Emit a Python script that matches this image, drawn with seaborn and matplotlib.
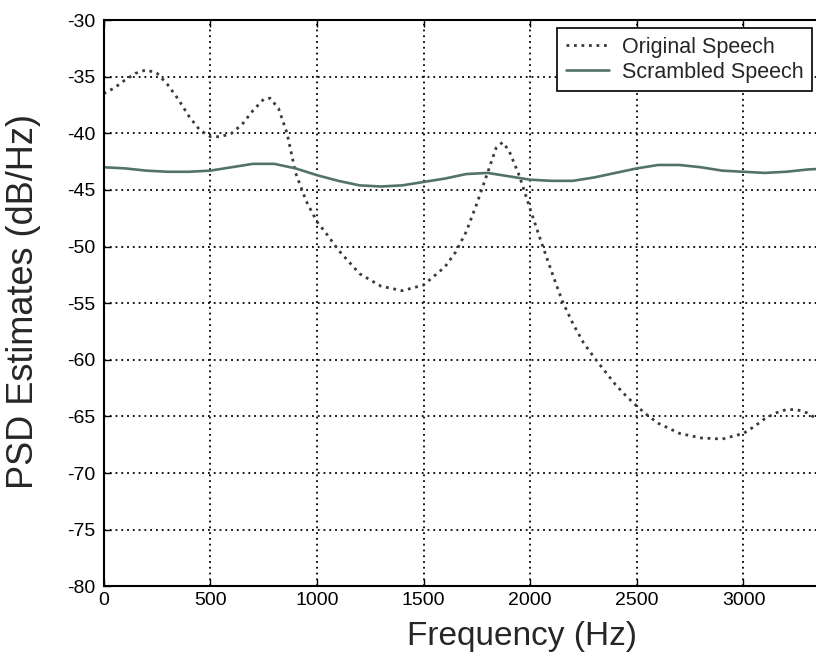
import numpy as np
import pandas as pd
import matplotlib
matplotlib.use("Agg")
import matplotlib.pyplot as plt
import seaborn as sns

# ---- data ----
orig_freq = [0, 50, 100, 150, 200, 250, 300, 350, 400, 450, 500, 550, 600, 650, 700,
             750, 780, 820, 860, 900, 950, 1000, 1050, 1100, 1200, 1300, 1400, 1500,
             1600, 1650, 1700, 1750, 1800, 1840, 1870, 1900, 1950, 2000, 2050, 2100,
             2150, 2200, 2250, 2300, 2350, 2400, 2450, 2500, 2550, 2600, 2700, 2800,
             2900, 3000, 3050, 3100, 3150, 3200, 3250, 3300, 3350, 3400]
orig_psd = [-36.5, -36.0, -35.3, -34.7, -34.4, -34.7, -35.7, -37.0, -38.5, -39.7, -40.3,
            -40.3, -40.0, -39.2, -38.0, -37.0, -36.9, -37.8, -40.0, -43.5, -46.0, -47.8,
            -49.0, -50.3, -52.4, -53.5, -53.9, -53.4, -51.8, -50.5, -48.7, -46.2, -43.5,
            -41.3, -40.8, -41.5, -43.8, -46.7, -49.5, -52.2, -54.8, -56.8, -58.5, -59.8,
            -61.0, -62.2, -63.2, -64.1, -64.9, -65.6, -66.5, -66.9, -67.0, -66.5, -65.9,
            -65.2, -64.7, -64.4, -64.4, -64.7, -65.3, -66.0]

scr_freq = [0, 100, 200, 300, 400, 500, 600, 700, 800, 900, 1000, 1100, 1200, 1300, 1400,
            1500, 1600, 1700, 1800, 1900, 2000, 2100, 2200, 2300, 2400, 2500, 2600, 2700,
            2800, 2900, 3000, 3100, 3200, 3300, 3400]
scr_psd = [-43.0, -43.1, -43.3, -43.4, -43.4, -43.3, -43.0, -42.7, -42.7, -43.1, -43.7,
           -44.2, -44.6, -44.7, -44.6, -44.3, -44.0, -43.6, -43.5, -43.8, -44.1, -44.2,
           -44.2, -43.9, -43.5, -43.1, -42.8, -42.8, -43.0, -43.3, -43.4, -43.5, -43.4,
           -43.2, -43.1]

series_labels = ["Original Speech", "Scrambled Speech"]
x_ticks = [0, 500, 1000, 1500, 2000, 2500, 3000]
y_ticks = [-80, -75, -70, -65, -60, -55, -50, -45, -40, -35, -30]
x_label = "Frequency (Hz)"
y_label = "PSD Estimates (dB/Hz)"

# ---- plotting ----
sns.set_style("white")
plt.rcParams["font.family"] = ["Liberation Sans", "DejaVu Sans"]

fig = plt.figure(figsize=(8.16, 6.67), dpi=100)
ax = fig.add_axes([0.127, 0.121, 0.873, 0.849])

df_o = pd.DataFrame({"f": orig_freq, "p": orig_psd})
df_s = pd.DataFrame({"f": scr_freq, "p": scr_psd})

sns.lineplot(data=df_o, x="f", y="p", ax=ax, color="#3a3a3a", linestyle=(0, (1.0, 1.7)),
             linewidth=2.0, label=series_labels[0])
sns.lineplot(data=df_s, x="f", y="p", ax=ax, color="#537368", linestyle="-",
             linewidth=1.9, label=series_labels[1])

ax.set_xlim(0, 3340)
ax.set_ylim(-80, -30)
ax.set_xticks(x_ticks)
ax.set_yticks(y_ticks)
ax.set_xticklabels([str(t) for t in x_ticks])
ax.set_yticklabels([str(t) for t in y_ticks])

ax.grid(True, color="black", linestyle=(0, (1, 2.2)), linewidth=1.3)
ax.set_axisbelow(True)

for side in ["left", "bottom", "top"]:
    ax.spines[side].set_color("black")
    ax.spines[side].set_linewidth(1.5)
ax.spines["right"].set_visible(False)

ax.tick_params(axis="both", direction="in", length=5, width=1, labelsize=14,
               colors="black", top=True, left=True, bottom=True)
ax.tick_params(axis="x", pad=4)
ax.tick_params(axis="y", pad=6)

ax.set_xlabel(x_label, fontsize=24)
ax.xaxis.set_label_coords(0.587, -0.062)
ax.set_ylabel(y_label, fontsize=26)
ax.yaxis.set_label_coords(-0.088, 0.503)

leg = ax.legend(loc="upper right", bbox_to_anchor=(0.9944, 0.986), fontsize=15.5,
                frameon=True, fancybox=False, edgecolor="black", framealpha=1,
                handlelength=2.0, borderpad=0.4, labelspacing=0.2, handletextpad=0.6,
                borderaxespad=0.0)
leg.get_frame().set_linewidth(1.2)

fig.savefig("out.png", dpi=100)
